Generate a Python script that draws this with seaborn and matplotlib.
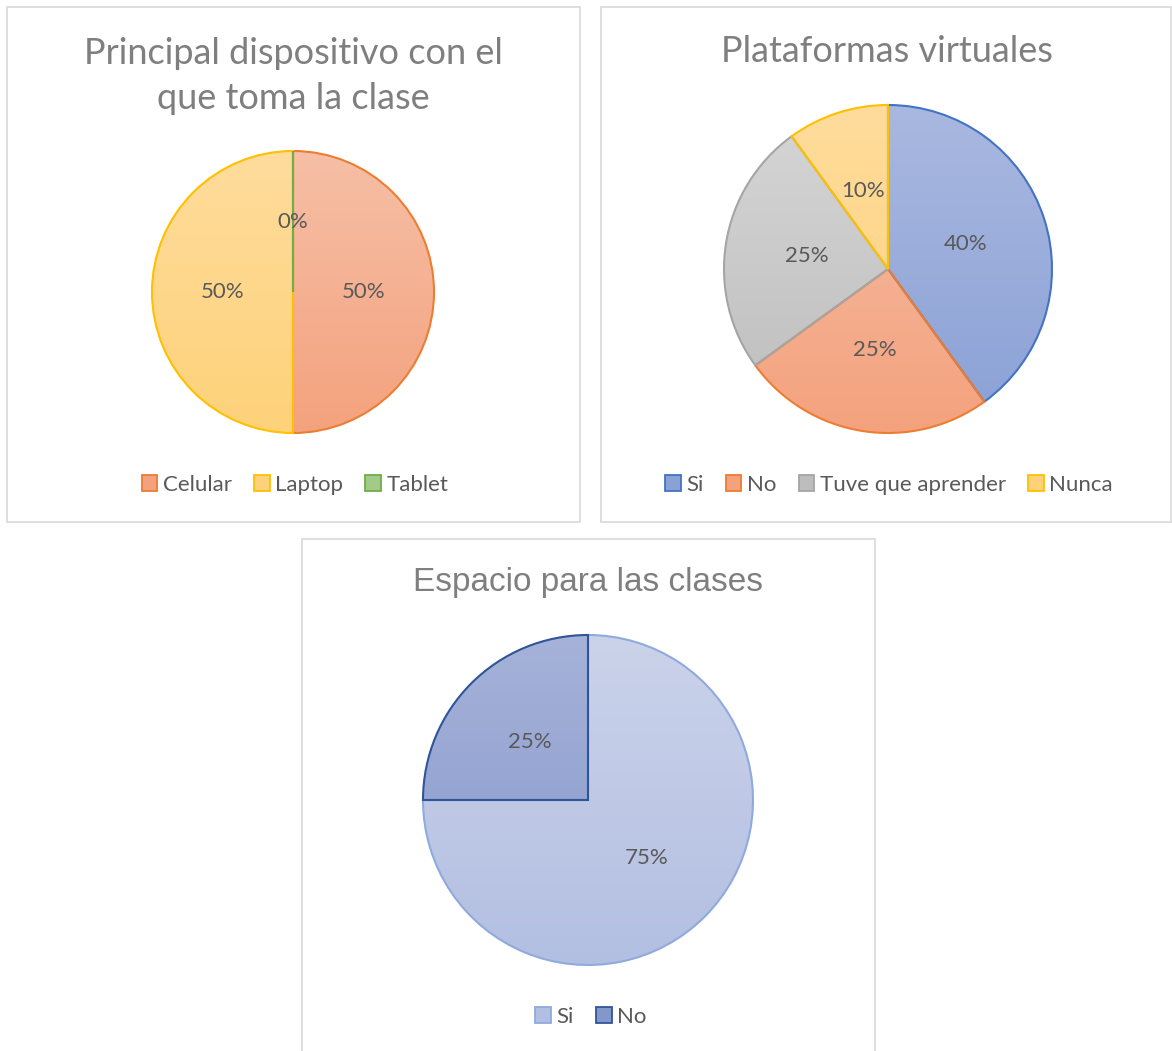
import numpy as np
import seaborn as sns
import matplotlib
import matplotlib.pyplot as plt
from matplotlib.patches import Patch, Rectangle
from matplotlib.colors import LinearSegmentedColormap

matplotlib.use('Agg')

# data
disp_labels = ['Celular', 'Laptop', 'Tablet']
disp_vals = [50, 50, 0]
plat_labels = ['Si', 'No', 'Tuve que aprender', 'Nunca']
plat_vals = [40, 25, 25, 10]
esp_labels = ['Si', 'No']
esp_vals = [75, 25]

# colors: (top of gradient, bottom of gradient, edge)
ORANGE = ('#F6BFA6', '#F4A27E', '#ED7D31')
YELLOW = ('#FFDC9C', '#FED27A', '#FFC000')
GREEN = ('#B5D69E', '#A2CB87', '#70AD47')
BLUE = ('#A9B8E0', '#8AA1D6', '#4472C4')
GRAY = ('#D6D6D6', '#BDBDBD', '#A5A5A5')
LBLUE = ('#CBD3EA', '#B3BFE2', '#8FAADC')
DBLUE = ('#A6B2D9', '#8497CA', '#2F5597')

W, H = 1172, 1051

sns.set_theme(style="white")
plt.rcParams['font.family'] = ['Lato', 'DejaVu Sans']

fig = plt.figure(figsize=(W / 100, H / 100), dpi=100)


def fx(x):
    return x / W


def fy(y):
    return 1 - y / H


def panel(x0, y0, x1, y1):
    fig.patches.append(Rectangle((fx(x0), fy(y1)), fx(x1) - fx(x0), fy(y0) - fy(y1),
                                 transform=fig.transFigure, fill=False,
                                 edgecolor='#D9D9D9', linewidth=1.2))


def draw_pie(cx, cy, r, vals, colors):
    ax = fig.add_axes([fx(cx - r - 3), fy(cy + r + 3), (2 * r + 6) / W, (2 * r + 6) / H])
    wedges, texts, autotexts = ax.pie(vals, startangle=90, counterclock=False,
                                      autopct='%1.0f%%', pctdistance=0.5,
                                      textprops={'color': '#595959', 'fontsize': 16})
    grad = np.linspace(0, 1, 256).reshape(-1, 1)
    for w, c in zip(wedges, colors):
        cmap = LinearSegmentedColormap.from_list('g', [c[0], c[1]])
        im = ax.imshow(grad, extent=[-1, 1, -1, 1], origin='upper', cmap=cmap,
                       aspect='auto', zorder=0)
        im.set_clip_path(w)
        w.set_facecolor('none')
        w.set_edgecolor(c[2])
        w.set_linewidth(1.5)
    for t in autotexts:
        t.set_zorder(5)
    lim = (2 * r + 6) / (2 * r)
    ax.set_xlim(-lim, lim)
    ax.set_ylim(-lim, lim)
    ax.set_aspect('equal')
    ax.axis('off')


def legend(cx, cy, labels, colors, spacing=1.0):
    handles = [Patch(facecolor=c[1], edgecolor=c[2], linewidth=1.3) for c in colors]
    fig.legend(handles, labels, loc='center', bbox_to_anchor=(fx(cx), fy(cy)),
               ncol=len(labels), frameon=False, handlelength=0.7, handleheight=0.7,
               handletextpad=0.25, columnspacing=spacing,
               prop={'size': 16}, labelcolor='#595959')


# panel 1
panel(7, 7, 580, 522)
fig.text(fx(293), fy(76), 'Principal dispositivo con el\nque toma la clase', ha='center',
         va='center', fontsize=26, color='#7F7F7F', linespacing=1.42)
draw_pie(293, 292, 141, disp_vals, [ORANGE, YELLOW, GREEN])
legend(295, 485, disp_labels, [ORANGE, YELLOW, GREEN])

# panel 2
panel(601, 7, 1171, 522)
fig.text(fx(887), fy(52), 'Plataformas virtuales', ha='center', va='center',
         fontsize=26, color='#7F7F7F')
draw_pie(888, 269, 164, plat_vals, [BLUE, ORANGE, GRAY, YELLOW])
legend(889, 485, plat_labels, [BLUE, ORANGE, GRAY, YELLOW])

# panel 3
panel(302, 539, 875, 1060)
fig.text(fx(588), fy(583), 'Espacio para las clases', ha='center', va='center',
         fontsize=24, color='#7F7F7F', family=['Liberation Sans', 'DejaVu Sans'])
draw_pie(588, 800, 165, esp_vals, [LBLUE, DBLUE])
legend(591, 1017, esp_labels, [LBLUE, DBLUE])

fig.savefig('out.png', dpi=100)
